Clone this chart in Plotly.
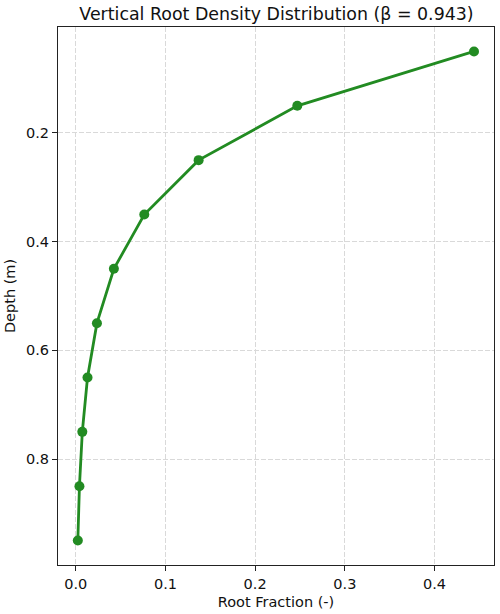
import plotly.graph_objects as go

# layer mid-depths (m) and root fraction per layer
depth = [0.05, 0.15, 0.25, 0.35, 0.45, 0.55, 0.65, 0.75, 0.85, 0.95]
root_fraction = [0.444, 0.247, 0.137, 0.0764, 0.0425, 0.0236, 0.0131, 0.0073, 0.0041, 0.0023]
x_ticks = [0.0, 0.1, 0.2, 0.3, 0.4]
y_ticks = [0.2, 0.4, 0.6, 0.8]

green = '#228B22'
font = 'DejaVu Sans'

fig = go.Figure()
fig.add_trace(go.Scatter(x=root_fraction, y=depth, mode='lines+markers',
                         line=dict(color=green, width=2.8),
                         marker=dict(color=green, size=10)))

axis_style = dict(showline=True, linecolor='#222222', linewidth=1.2, mirror=True,
                  ticks='outside', ticklen=5, tickcolor='#222222', tickwidth=1.2,
                  showgrid=True, gridcolor='#d9d9d9', griddash='5px,2px', gridwidth=1,
                  zeroline=False, automargin=False,
                  tickfont=dict(family=font, size=14.5, color='#111111'),
                  title_font=dict(family=font, size=14.5, color='#111111'))

fig.update_xaxes(axis_style, range=[-0.0198, 0.4663], tickvals=x_ticks,
                 ticktext=['%.1f' % v for v in x_ticks], title_text='Root Fraction (-)',
                 title_standoff=6)
fig.update_yaxes(axis_style, range=[0.995, 0.005], tickvals=y_ticks,
                 ticktext=['%.1f' % v for v in y_ticks], title_text='Depth (m)',
                 title_standoff=6)

fig.update_layout(width=500, height=614, plot_bgcolor='white', paper_bgcolor='white',
                  showlegend=False,
                  margin=dict(l=58, r=6, t=27, b=49),
                  title=dict(text='Vertical Root Density Distribution (β = 0.943)',
                             x=0.553, xanchor='center', y=0.978, yanchor='middle',
                             font=dict(family=font, size=17.4, color='#111111')))
# drop the browser's default page margin so the figure fills the window
fig.write_html("out.html", config={'displayModeBar': False},
               post_script="document.body.style.margin='0';document.body.style.overflow='hidden';")
